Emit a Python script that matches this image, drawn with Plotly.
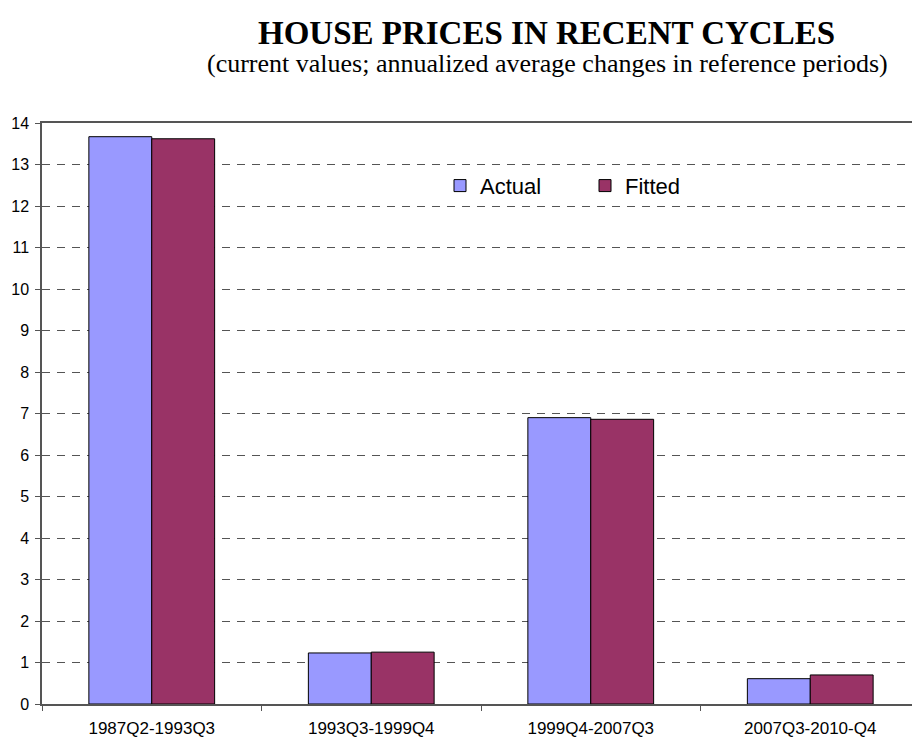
import plotly.graph_objects as go

categories = ["1987Q2-1993Q3", "1993Q3-1999Q4", "1999Q4-2007Q3", "2007Q3-2010-Q4"]
actual = [13.67, 1.23, 6.90, 0.61]
fitted = [13.62, 1.25, 6.86, 0.70]
y_ticks = list(range(0, 15))

# page body has an 8px margin, so figure-local = screen - 8; keep figure inside window
OFF = 8
W, H = 920 - OFF, 738 - OFF
L, R, T, B = 42 - OFF, 0, 123 - OFF, 738 - 707
PW, PH = W - L - R, H - T - B


def px_x(sx):
    return (sx - OFF - L) / PW


def px_y(sy):
    return (H - B - (sy - OFF)) / PH


fig = go.Figure()
fig.add_trace(go.Bar(name="Actual", x=categories, y=actual,
                     marker=dict(color="#9999FF", line=dict(color="black", width=1))))
fig.add_trace(go.Bar(name="Fitted", x=categories, y=fitted,
                     marker=dict(color="#993366", line=dict(color="black", width=1))))

fig.update_layout(
    width=W, height=H,
    margin=dict(l=L, r=R, t=T, b=B, pad=0),
    paper_bgcolor="white", plot_bgcolor="white",
    barmode="group", bargap=0.427, bargroupgap=0,
    showlegend=True,
    legend=dict(orientation="h", x=px_x(440), y=px_y(165),
                xanchor="left", yanchor="top", bgcolor="rgba(0,0,0,0)",
                font=dict(family="Liberation Sans, Arial", size=22, color="black"),
                entrywidth=100, itemwidth=30),
    font=dict(family="Liberation Sans, Arial", color="black"),
    shapes=[dict(type="rect", xref="paper", yref="paper", x0=px_x(437), x1=px_x(718),
                 y0=px_y(209), y1=px_y(166), fillcolor="white", line=dict(width=0),
                 layer="between")],
    annotations=[
        dict(text="<b>HOUSE PRICES IN RECENT CYCLES</b>", x=px_x(546), y=px_y(33),
             xref="paper", yref="paper", showarrow=False,
             font=dict(family="Liberation Serif, Times New Roman", size=33, color="black"),
             xanchor="center", yanchor="middle"),
        dict(text="(current values; annualized average changes in reference periods)",
             x=px_x(547), y=px_y(63), xref="paper", yref="paper", showarrow=False,
             font=dict(family="Liberation Serif, Times New Roman", size=26, color="black"),
             xanchor="center", yanchor="middle"),
    ],
)

fig.update_xaxes(
    type="category", showline=True, linecolor="#555555", linewidth=1.5, mirror=True,
    ticks="outside", tickson="boundaries", ticklen=5, tickcolor="#555555",
    tickfont=dict(family="Liberation Sans, Arial", size=17, color="black"),
    ticklabelstandoff=8, showgrid=False, zeroline=False,
)
fig.update_yaxes(
    range=[0, 14], tickvals=y_ticks, showline=True, linecolor="#555555", linewidth=1.5,
    ticks="outside", ticklen=5, tickcolor="#555555",
    tickfont=dict(family="Liberation Sans, Arial", size=16, color="black"),
    ticklabelstandoff=3,
    showgrid=True, gridcolor="#555555", gridwidth=1, griddash="8px,7px", zeroline=False,
)

fig.write_html("out.html")
